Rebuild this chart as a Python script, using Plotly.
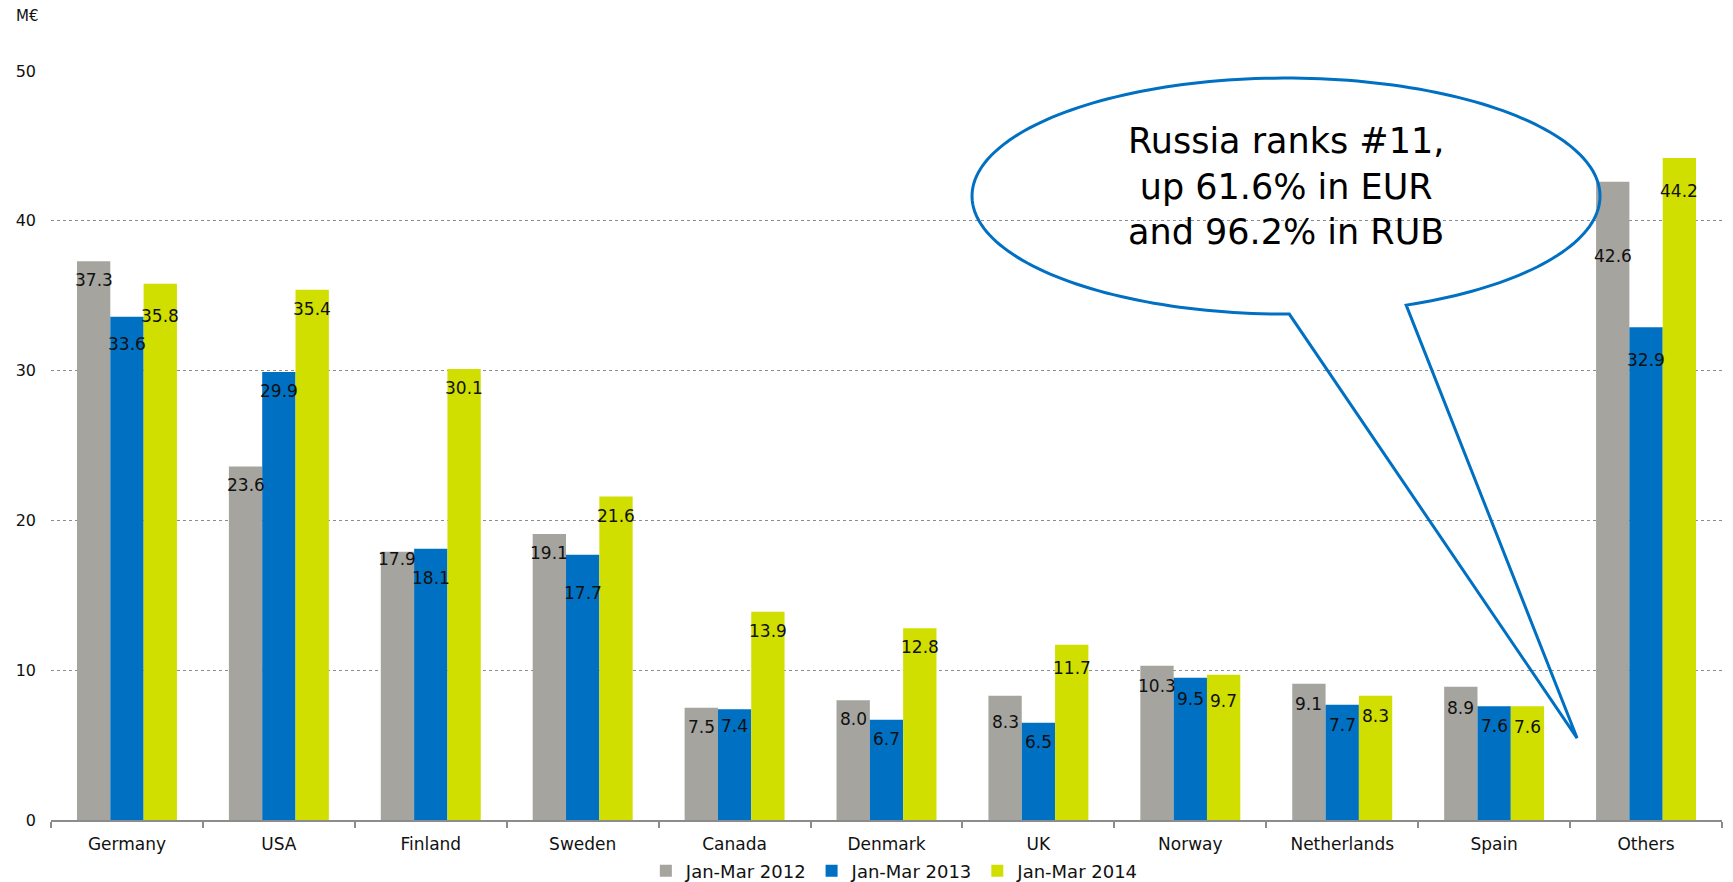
import numpy as np
import plotly.graph_objects as go

countries = ["Germany", "USA", "Finland", "Sweden", "Canada", "Denmark", "UK",
             "Norway", "Netherlands", "Spain", "Others"]
q1_2012 = [37.3, 23.6, 17.9, 19.1, 7.5, 8.0, 8.3, 10.3, 9.1, 8.9, 42.6]
q1_2013 = [33.6, 29.9, 18.1, 17.7, 7.4, 6.7, 6.5, 9.5, 7.7, 7.6, 32.9]
q1_2014 = [35.8, 35.4, 30.1, 21.6, 13.9, 12.8, 11.7, 9.7, 8.3, 7.6, 44.2]
series_names = ["Jan-Mar 2012", "Jan-Mar 2013", "Jan-Mar 2014"]
colors = ["#A5A49F", "#0070C2", "#D0DF00"]
y_ticks = [0, 10, 20, 30, 40, 50]

# style: how far (px) each data label sits below its bar top
label_drop_2012 = [19, 19, 7, 19, 19, 19, 26, 20, 20, 21, 74]
label_drop_2013 = [27, 19, 29, 38, 17, 19, 19, 21, 20, 20, 33]
label_drop_2014 = [32, 19, 19, 20, 19, 19, 23, 26, 20, 21, 33]

FONT = "DejaVu Sans"
GAP = 0.342
BAR_W = (1 - GAP) / 3

fig = go.Figure()
for name, vals, col in zip(series_names, [q1_2012, q1_2013, q1_2014], colors):
    fig.add_trace(go.Bar(
        x=countries, y=vals, name=name, marker=dict(color=col, line=dict(width=0)),
        hoverinfo="skip",
    ))

# data labels
for k, (vals, drops) in enumerate(zip([q1_2012, q1_2013, q1_2014],
                                      [label_drop_2012, label_drop_2013, label_drop_2014])):
    for i, (v, d) in enumerate(zip(vals, drops)):
        fig.add_annotation(x=i + (k - 1) * BAR_W, y=v, xref="x2", yref="y",
                           text=f"{v:.1f}", showarrow=False, yanchor="middle",
                           yshift=-d, font=dict(family=FONT, size=17, color="#111111"))

# callout (ellipse with tail) on a hidden linear overlay axis
cx, cy, rx, ry = 7.63, 41.65, 2.067, 7.88
a = np.radians(np.linspace(-67.5, 270.6, 200))
px = cx + rx * np.cos(a)
py = cy + ry * np.sin(a)
path = "M {:.4f},{:.4f} ".format(px[0], py[0])
path += " ".join("L {:.4f},{:.4f}".format(x, y) for x, y in zip(px[1:], py[1:]))
path += " L 9.546,5.47 Z"
fig.add_shape(type="path", path=path, xref="x2", yref="y",
              line=dict(color="#0070C2", width=3), fillcolor="rgba(0,0,0,0)")

fig.add_annotation(x=cx, y=42.3, xref="x2", yref="y",
                   text="Russia ranks #11,<br>up 61.6% in EUR<br>and 96.2% in RUB",
                   showarrow=False, font=dict(family=FONT, size=35, color="#000000"),
                   align="center")

fig.add_annotation(x=-(51 - 14) / 1671, y=1 + (71 - 16) / 749, xref="paper", yref="paper",
                   text="M€", showarrow=False, xanchor="left", yanchor="middle",
                   font=dict(family=FONT, size=15, color="#111111"))

fig.update_layout(
    width=1733, height=882,
    margin=dict(l=51, r=11, t=71, b=62, autoexpand=False),
    paper_bgcolor="white", plot_bgcolor="white",
    barmode="group", bargap=GAP, bargroupgap=0,
    font=dict(family=FONT, color="#111111"),
    showlegend=True,
    legend=dict(orientation="h", x=0.505, xanchor="center", y=-0.068, yanchor="middle",
                font=dict(family=FONT, size=18, color="#111111"),
                itemwidth=30, tracegroupgap=0, bgcolor="rgba(0,0,0,0)"),
    xaxis=dict(type="category", range=[-0.5, 10.5], showgrid=False,
               showline=True, linecolor="#8C8C8C", linewidth=1.5,
               ticks="outside", tickson="boundaries", ticklen=6, tickcolor="#8C8C8C",
               tickwidth=1.5, tickfont=dict(family=FONT, size=17, color="#111111"),
               ticklabelstandoff=8),
    xaxis2=dict(overlaying="x", range=[-0.5, 10.5], visible=False),
    yaxis=dict(range=[0, 50], tickvals=y_ticks, showgrid=True, gridcolor="#8C8C8C",
               griddash="dot", gridwidth=1, zeroline=False, showline=False,
               tickfont=dict(family=FONT, size=16, color="#111111"),
               ticklabelstandoff=14),
)

fig.write_html("out.html")
